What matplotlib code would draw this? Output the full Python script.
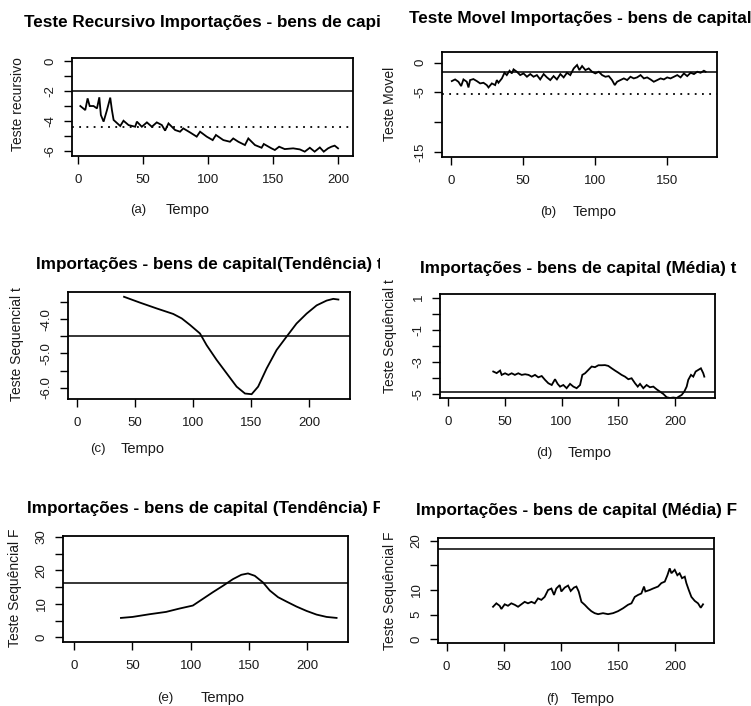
import matplotlib
matplotlib.use("Agg")
import matplotlib.pyplot as plt
from matplotlib.transforms import Bbox, TransformedBbox

plt.rcParams["font.family"] = ["Liberation Sans", "DejaVu Sans"]

W, H = 751, 706

# ---------------- data ----------------
# (a) Teste recursivo
t_a = [1.8, 5.6, 7.4, 9.0, 12.0, 14.6, 16.4, 17.6, 19.7, 22.3, 24.8, 26.1, 27.4,
       32.5, 35.0, 38.9, 44.0, 45.3, 49.1, 53.0, 56.8, 60.6, 64.5, 67.0, 69.6,
       74.7, 78.5, 81.0, 86.2, 91.3, 93.9, 99.0, 103.6, 106.1, 111.8, 116.9,
       119.4, 123.3, 128.4, 131.0, 136.1, 141.2, 142.9, 148.8, 151.4, 154.7,
       159.0, 165.5, 170.6, 174.4, 178.3, 182.0, 186.0, 189.0, 192.3, 194.9,
       197.4, 200.0]
y_a = [-3.0, -3.27, -2.49, -3.0, -3.0, -3.16, -2.42, -3.6, -4.04, -3.27, -2.44,
       -3.27, -3.93, -4.33, -3.98, -4.27, -4.38, -4.04, -4.38, -4.09, -4.38,
       -4.09, -4.27, -4.64, -4.16, -4.6, -4.71, -4.49, -4.76, -5.04, -4.71,
       -5.04, -5.27, -4.93, -5.27, -5.38, -5.16, -5.38, -5.6, -5.16, -5.6,
       -5.78, -5.53, -5.82, -5.93, -5.71, -5.87, -5.82, -5.89, -6.04, -5.78,
       -6.04, -5.76, -6.04, -5.82, -5.71, -5.64, -5.82]
crit_a = [-2.0, -4.4]

# (b) Teste movel
t_b = [0.5, 2.8, 5.1, 7.0, 8.6, 10.9, 12.1, 13.2, 15.5, 17.9, 20.2, 22.5, 24.8,
       26.0, 28.3, 30.6, 31.8, 32.9, 35.3, 37.1, 38.7, 40.6, 42.2, 43.4, 45.7,
       48.0, 50.3, 52.7, 55.0, 57.3, 59.6, 61.9, 64.3, 66.6, 68.9, 71.2, 73.5,
       75.9, 78.2, 80.5, 82.8, 85.2, 87.5, 89.1, 91.0, 93.3, 95.6, 97.9, 100.2,
       102.6, 104.9, 107.2, 109.5, 111.8, 113.7, 115.3, 117.6, 120.0, 122.3,
       124.6, 126.9, 129.2, 131.6, 133.9, 136.2, 138.5, 140.8, 143.2, 145.5,
       147.8, 150.1, 152.4, 154.8, 157.1, 159.4, 161.7, 164.0, 166.4, 168.7,
       171.0, 173.3, 175.6, 176.8]
y_b = [-3.09, -2.81, -3.2, -3.93, -2.81, -3.2, -4.16, -2.92, -2.75, -3.09,
       -3.48, -3.37, -3.76, -4.16, -3.48, -3.76, -2.92, -3.37, -2.64, -1.69,
       -2.08, -1.35, -1.8, -1.12, -1.52, -2.08, -1.8, -2.36, -1.91, -2.36,
       -2.08, -2.81, -1.91, -2.47, -2.92, -2.25, -2.81, -1.91, -2.47, -1.69,
       -2.08, -0.96, -0.39, -1.24, -0.56, -1.24, -0.96, -1.52, -1.8, -1.52,
       -2.08, -2.36, -2.25, -2.92, -3.76, -3.2, -2.92, -2.64, -2.92, -2.36,
       -2.64, -2.47, -2.08, -2.64, -2.47, -2.81, -3.2, -2.92, -2.64, -2.81,
       -2.47, -2.64, -2.36, -2.08, -2.47, -1.8, -2.25, -1.69, -1.91, -1.52,
       -1.69, -1.35, -1.52]
crit_b = [-1.55, -5.2]

# (c) Teste sequencial t (tendencia)
t_c = [40.7, 54.4, 68.8, 83.0, 90.3, 97.4, 106.0, 111.7, 120.3, 128.9, 137.5,
       144.7, 150.4, 156.0, 163.3, 171.9, 180.5, 189.0, 197.7, 206.3, 214.9,
       220.6, 225.0]
y_c = [-3.35, -3.52, -3.69, -3.85, -3.98, -4.17, -4.42, -4.76, -5.19, -5.58,
       -5.97, -6.17, -6.19, -5.97, -5.44, -4.9, -4.51, -4.13, -3.84, -3.6,
       -3.46, -3.41, -3.43]
crit_c = -4.48

# (d) Teste sequencial t (media)
t_d = [40.0, 43.0, 46.0, 47.4, 50.4, 53.3, 56.2, 59.0, 62.0, 65.0, 68.0, 71.0,
       73.8, 76.7, 79.6, 82.6, 85.5, 88.4, 91.4, 94.3, 96.6, 98.7, 101.6, 104.5,
       107.5, 110.4, 113.3, 116.3, 118.3, 120.7, 123.6, 126.5, 129.4, 132.4,
       135.3, 138.2, 141.1, 144.1, 147.0, 149.9, 152.8, 155.8, 158.7, 161.6,
       164.6, 167.0, 169.0, 171.9, 174.8, 177.7, 180.7, 183.6, 186.5, 189.5,
       192.4, 195.3, 198.2, 201.2, 203.2, 205.6, 207.9, 210.0, 211.4, 213.8,
       215.8, 217.9, 220.2, 222.5, 224.6, 225.5]
y_d = [-3.6, -3.7, -3.54, -3.81, -3.71, -3.81, -3.71, -3.81, -3.71, -3.81,
       -3.77, -3.81, -3.92, -3.81, -3.96, -3.88, -4.12, -4.33, -4.44, -4.08,
       -4.37, -4.54, -4.44, -4.64, -4.37, -4.54, -4.64, -4.44, -3.81, -3.71,
       -3.5, -3.29, -3.33, -3.21, -3.21, -3.2, -3.25, -3.4, -3.54, -3.67,
       -3.81, -3.92, -4.08, -4.02, -4.33, -4.54, -4.37, -4.64, -4.44, -4.58,
       -4.54, -4.71, -4.85, -5.0, -5.2, -5.25, -5.22, -5.25, -5.16, -5.06,
       -4.85, -4.54, -4.12, -3.81, -3.92, -3.6, -3.5, -3.4, -3.71, -3.92]
crit_d = -4.9

# (e) Teste sequencial F (tendencia)
t_e = [40.2, 50.2, 64.6, 78.9, 90.4, 101.9, 110.5, 119.1, 127.7, 136.3, 143.5,
       149.2, 155.0, 162.1, 167.9, 175.0, 182.2, 190.8, 199.4, 208.0, 216.6,
       225.2]
y_e = [5.8, 6.1, 6.9, 7.6, 8.6, 9.5, 11.5, 13.5, 15.4, 17.4, 18.7, 19.1, 18.4,
       16.4, 14.0, 12.0, 10.7, 9.2, 7.9, 6.8, 6.1, 5.8]
crit_e = 16.1

# (f) Teste sequencial F (media)
t_f = [40.6, 43.5, 46.4, 47.9, 50.8, 53.7, 56.6, 59.6, 62.5, 65.4, 68.3, 71.2,
       74.2, 77.1, 80.0, 82.9, 85.8, 88.8, 91.7, 94.0, 96.0, 99.0, 100.4, 103.4,
       106.3, 108.6, 111.5, 113.6, 115.6, 118.0, 120.9, 123.8, 126.7, 129.6,
       132.6, 136.9, 141.3, 145.7, 150.0, 154.5, 158.8, 161.8, 164.7, 167.6,
       170.5, 172.8, 174.0, 177.8, 180.7, 185.1, 188.0, 191.0, 193.3, 195.3,
       196.8, 199.7, 202.0, 204.0, 206.1, 208.5, 209.9, 212.0, 214.3, 217.2,
       220.1, 222.5, 224.5]
y_f = [6.6, 7.3, 6.8, 6.15, 7.1, 6.8, 7.3, 7.0, 6.6, 7.1, 7.6, 7.3, 7.6, 7.3,
       8.3, 8.0, 8.6, 10.0, 10.3, 9.0, 10.3, 11.0, 9.7, 10.5, 10.9, 9.8, 10.5,
       10.7, 9.7, 7.6, 7.0, 6.3, 5.7, 5.3, 5.1, 5.3, 5.1, 5.3, 5.7, 6.3, 7.0,
       7.3, 8.6, 9.0, 9.3, 10.7, 9.7, 10.0, 10.3, 10.7, 11.4, 11.7, 13.0, 14.4,
       13.4, 14.1, 13.0, 13.4, 12.4, 12.7, 11.4, 10.0, 8.6, 7.8, 7.3, 6.4, 7.1]
crit_f = 18.4

titles = ["Teste Recursivo Importações - bens de capital",
          "Teste Movel Importações - bens de capital",
          "Importações - bens de capital(Tendência) t",
          "Importações - bens de capital (Média) t",
          "Importações - bens de capital (Tendência) F",
          "Importações - bens de capital (Média) F"]
ylabels = ["Teste recursivo", "Teste Movel", "Teste Sequencial t",
           "Teste Sequêncial t", "Teste Sequêncial F", "Teste Sequêncial F"]
letters = ["(a)", "(b)", "(c)", "(d)", "(e)", "(f)"]
xlab = "Tempo"

# ---------------- layout ----------------
fig = plt.figure(figsize=(W / 100, H / 100), dpi=100)
fig.patch.set_facecolor("white")


def px_axes(l, t, r, b):
    return fig.add_axes([l / W, 1 - b / H, (r - l) / W, (b - t) / H])


def fx(x):
    return x / W


def fy(y):
    return 1 - y / H


boxes = [(72, 58, 353, 156), (442, 52, 717, 157), (68, 292, 350, 399),
         (440, 294, 715, 398), (63, 536, 348, 642), (438, 538, 714, 643)]
xlims = [(-4.6, 211.5), (-6.3, 184.7), (-7.5, 235), (-6.8, 234.9),
         (-9.5, 235), (-7.6, 234.1)]
ylims = [(-6.33, 0.2), (-15.85, 1.8), (-6.33, -3.21), (-5.25, 1.23),
         (-1.4, 30.3), (-0.75, 20.55)]
xticks = [[0, 50, 100, 150, 200], [0, 50, 100, 150], [0, 50, 100, 150, 200],
          [0, 50, 100, 150, 200], [0, 50, 100, 150, 200], [0, 50, 100, 150, 200]]
yticks = [[0, -1, -2, -3, -4, -5, -6], [0, -5, -10, -15],
          [-3.5, -4.0, -4.5, -5.0, -5.5, -6.0], [1, 0, -1, -2, -3, -4, -5],
          [0, 5, 10, 15, 20, 25, 30], [0, 5, 10, 15, 20]]
yticklabels = [["0", "", "-2", "", "-4", "", "-6"], ["0", "-5", "", "-15"],
               ["", "-4.0", "", "-5.0", "", "-6.0"],
               ["1", "", "-1", "", "-3", "", "-5"],
               ["0", "", "10", "", "20", "", "30"],
               ["0", "5", "10", "", "20"]]

title_pos = [(212, 22), (580, 18), (209, 265), (578, 268), (205, 508), (577, 510)]
ylab_pos = [(18, 104), (390, 104), (17, 344), (390, 336), (15, 588), (390, 591)]
letter_pos = [(138, 210), (548, 212), (98, 449), (544, 453), (165, 698), (552, 699)]
tempo_pos = [(188, 210), (595, 212), (143, 449), (590, 453), (223, 698), (593, 699)]

series = [(t_a, y_a), (t_b, y_b), (t_c, y_c), (t_d, y_d), (t_e, y_e), (t_f, y_f)]
hlines_solid = [crit_a[0], crit_b[0], crit_c, crit_d, crit_e, crit_f]
hlines_dot = [crit_a[1], crit_b[1], None, None, None, None]

LW = 1.3
TXT = "#1a1a1a"

for i in range(6):
    ax = px_axes(*boxes[i])
    t, y = series[i]
    ax.plot(t, y, color="black", lw=LW, solid_joinstyle="miter")
    ax.axhline(hlines_solid[i], color="black", lw=1.1)
    if hlines_dot[i] is not None:
        ax.axhline(hlines_dot[i], color="black", lw=1.3, linestyle=(0, (1, 3)))
    ax.set_xlim(*xlims[i])
    ax.set_ylim(*ylims[i])
    ax.set_xticks(xticks[i])
    ax.set_xticklabels([str(v) for v in xticks[i]])
    ax.set_yticks(yticks[i])
    ax.set_yticklabels(yticklabels[i], rotation=90, va="center")
    ax.tick_params(direction="out", length=6, width=1.0, labelsize=9.5,
                   colors="black", labelcolor=TXT)
    ax.tick_params(axis="x", pad=7)
    ax.tick_params(axis="y", pad=5)
    for sp in ax.spines.values():
        sp.set_linewidth(1.3)

    # title, clipped to the panel's column like R's figure region
    col_l = 0 if i % 2 == 0 else 380
    col_r = 380 if i % 2 == 0 else W
    tt = fig.text(fx(title_pos[i][0]), fy(title_pos[i][1]), titles[i],
                  ha="center", va="center", fontsize=12.3, fontweight="bold",
                  color="black")
    clip = TransformedBbox(Bbox.from_extents(col_l / W, 0, col_r / W, 1),
                           fig.transFigure)
    tt.set_clip_box(clip)
    tt.set_clip_on(True)

    fig.text(fx(ylab_pos[i][0]), fy(ylab_pos[i][1]), ylabels[i], rotation=90,
             ha="center", va="center", fontsize=10, color=TXT)
    fig.text(fx(letter_pos[i][0]), fy(letter_pos[i][1]), letters[i],
             ha="center", va="center", fontsize=9.5, color=TXT)
    fig.text(fx(tempo_pos[i][0]), fy(tempo_pos[i][1]), xlab,
             ha="center", va="center", fontsize=10.5, color=TXT)

fig.savefig("out.png", dpi=100, facecolor="white")
